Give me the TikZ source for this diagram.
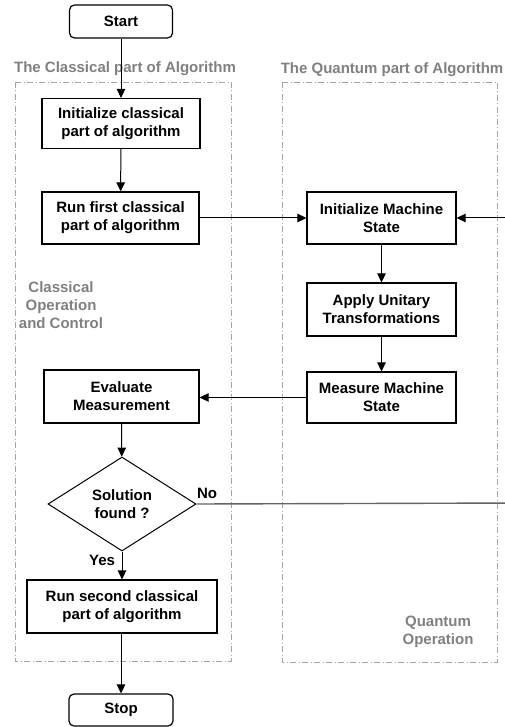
\documentclass[tikz,border=0pt]{standalone}
\usepackage{fontspec}
\setmainfont{Liberation Sans}
\usetikzlibrary{shapes.geometric,arrows.meta}
\definecolor{lblgray}{RGB}{128,128,128}
\definecolor{dashgray}{RGB}{165,165,165}
\definecolor{nogray}{RGB}{100,100,100}
\tikzset{
  every node/.style={font=\bfseries\fontsize{15}{18}\selectfont, align=center},
  stepbox/.style={draw, line width=1.2pt, inner sep=0pt},
  termbox/.style={draw, line width=1.2pt, rounded corners=5pt, inner sep=0pt},
  decision/.style={draw, diamond, line width=1pt, inner sep=0pt, minimum width=148pt, minimum height=94pt},
  grouplbl/.style={text=lblgray},
  groupbox/.style={draw=dashgray, line width=0.8pt, dash pattern=on 6pt off 2.5pt on 1pt off 2.5pt},
  conn/.style={line width=1pt, -{Triangle[length=9pt,width=8.5pt]}},
}
\begin{document}
\begin{tikzpicture}[x=1pt,y=-1pt]
\useasboundingbox (0,0) rectangle (504,727);
% group frames
\draw[groupbox] (15,82) rectangle (231,661);
\draw[groupbox] (282,82) rectangle (497,662);
\node[grouplbl] (lblc) at (125,69) {The Classical part of Algorithm};
\node[grouplbl] (lblq) at (392,70) {The Quantum part of Algorithm};
\node[grouplbl] (lblco) at (61,305) {Classical\\Operation\\and Control};
\node[grouplbl] (lblqo) at (438,632) {Quantum\\Operation};
% nodes
\node[termbox, minimum width=103pt, minimum height=33pt] (start) at (121,21.5) {Start};
\node[stepbox, minimum width=158pt, minimum height=50pt] (init) at (121,123.5) {Initialize classical\\part of algorithm};
\node[stepbox, minimum width=157pt, minimum height=52pt] (run1) at (120.5,218) {Run first classical\\part of algorithm};
\node[stepbox, minimum width=155pt, minimum height=53pt] (eval) at (121.5,396.5) {Evaluate\\Measurement};
\node[decision] (dia) at (122,504) {Solution\\found ?};
\node[stepbox, minimum width=190pt, minimum height=53pt] (run2) at (122,606.5) {Run second classical\\part of algorithm};
\node[termbox, minimum width=104pt, minimum height=32pt] (stop) at (121,710) {Stop};
\node[stepbox, minimum width=149pt, minimum height=52pt] (ims) at (381.5,218) {Initialize Machine\\State};
\node[stepbox, minimum width=149pt, minimum height=53pt] (aut) at (381.5,309.5) {Apply Unitary\\Transformations};
\node[stepbox, minimum width=149pt, minimum height=51pt] (mms) at (381.5,397.5) {Measure Machine\\State};
\node (nolbl) at (207,493) {No};
\node (yeslbl) at (102,560) {Yes};
% connectors
\draw[conn] (start) -- (init);
\draw[conn] (init) -- (run1);
\draw[conn] (run1) -- (ims);
\draw[conn] (ims) -- (aut);
\draw[conn] (aut) -- (mms);
\draw[conn] (mms.west) -- (eval.east |- mms.west);
\draw[conn] (eval) -- (dia);
\draw[conn] (dia.south) -- (run2.north -| dia.south);
\draw[conn] (run2.south -| stop.north) -- (stop);
\coordinate (loopc) at (520,503);
\draw[line width=1.4pt, nogray] (dia.east) -- (loopc);
\draw[conn] (loopc) |- (ims.east);
\end{tikzpicture}
\end{document}
